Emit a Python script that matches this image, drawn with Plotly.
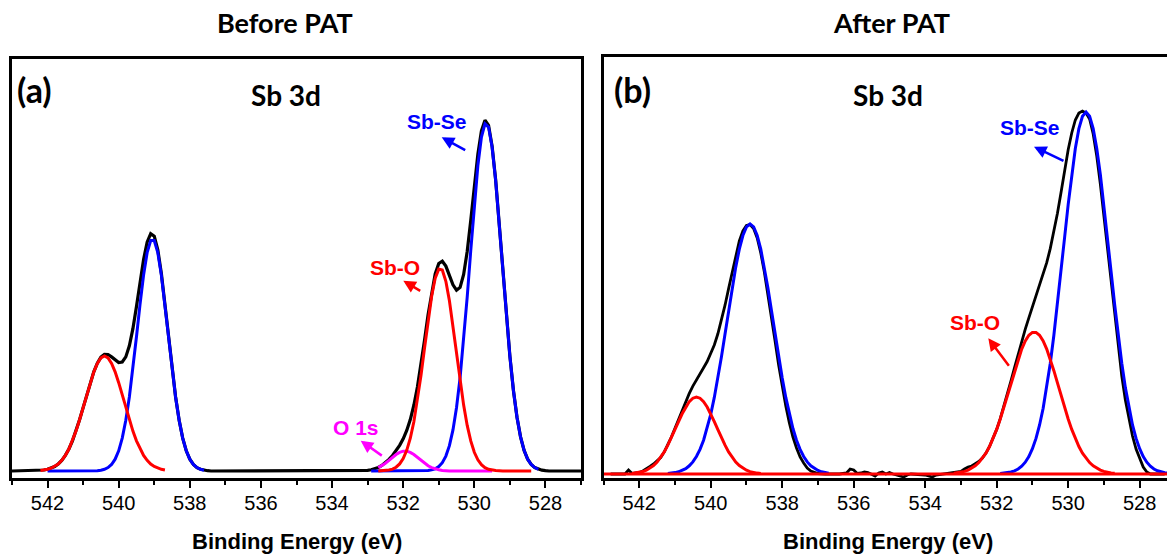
import plotly.graph_objects as go

# ---------------- Panel (a): Before PAT ----------------
a_black_E = [543.0, 542.3, 542.2, 542.1, 542.0, 541.9, 541.8, 541.7, 541.6, 541.5, 541.4, 541.3, 541.2, 541.1, 541.0,
             540.9, 540.8, 540.7, 540.6, 540.5, 540.4, 540.3, 540.2, 540.1, 540.0, 539.9, 539.8, 539.7, 539.6, 539.5,
             539.4, 539.3, 539.2, 539.1, 539.0, 538.9, 538.8, 538.7, 538.6, 538.5, 538.4, 538.3, 538.2, 538.1, 538.0,
             537.9, 537.8, 537.7, 537.6, 537.5, 537.4,
             533.2, 533.1, 533.0, 532.9, 532.8, 532.7, 532.6, 532.5, 532.4, 532.3, 532.2, 532.1, 532.0, 531.9, 531.8,
             531.7, 531.6, 531.5, 531.4, 531.3, 531.2, 531.1, 531.0, 530.9, 530.8, 530.7, 530.6, 530.5, 530.4, 530.3,
             530.2, 530.1, 530.0, 529.9, 529.8, 529.7, 529.6, 529.5, 529.4, 529.3, 529.2, 529.1, 529.0, 528.9, 528.8,
             528.7, 528.6, 528.5, 528.4, 528.3, 528.2, 528.1, 528.0, 527.9, 527.0]
a_black_I = [0, 0.2, 0.5, 1.0, 1.7, 2.8, 4.5, 7.0, 10.6, 15.6, 22.0, 30.2, 39.9, 51.2, 63.4,
             76.1, 88.3, 99.1, 107.9, 113.9, 116.7, 116.5, 114.1, 110.9, 108.5, 109.0, 114.1, 125.2, 142.3, 164.4,
             188.6, 211.5, 228.9, 237.4, 234.9, 221.1, 197.6, 167.6, 134.7, 102.4, 74.0, 50.7, 32.9, 20.2, 11.8,
             6.5, 3.4, 1.7, 0.8, 0.3, 0,
             0, 0.3, 0.6, 1.2, 2.1, 3.5, 5.5, 8.3, 11.6, 15.5, 20.3, 25.7, 32.2, 40.5, 51.4,
             65.8, 84.0, 106.0, 130.8, 156.2, 179.2, 197.0, 207.5, 209.8, 204.9, 195.5, 186.2, 180.9, 183.6, 196.5,
             219.5, 250.6, 284.6, 316.7, 340.2, 350.7, 345.7, 324.9, 291.1, 248.3, 201.8, 156.0, 114.9, 80.5, 53.7,
             34.1, 20.6, 11.8, 6.5, 3.4, 1.7, 0.8, 0.3, 0, 0]

a_sbse1_E = [532.9, 531.4, 531.3, 531.2, 531.1, 531.0, 530.9, 530.8, 530.7, 530.6, 530.5, 530.4, 530.3, 530.2, 530.1,
             530.0, 529.9, 529.8, 529.7, 529.6, 529.5, 529.4, 529.3, 529.2, 529.1, 529.0, 528.9, 528.8, 528.7, 528.6,
             528.5, 528.4, 528.3, 528.2]
a_sbse1_I = [0, 0, 0.5, 1.1, 2.2, 4.4, 8.3, 14.9, 25.3, 41.1, 63.5, 93.4, 130.6, 173.9, 220.5,
             265.9, 305.5, 333.9, 347.2, 343.9, 324.0, 290.7, 248.1, 201.7, 156.0, 114.9, 80.5, 53.7, 34.1, 20.6,
             11.8, 6.5, 3.4, 1.7]

a_sbo1_E = [532.7, 532.6, 532.5, 532.4, 532.3, 532.2, 532.1, 532.0, 531.9, 531.8, 531.7, 531.6, 531.5, 531.4, 531.3,
            531.2, 531.1, 531.0, 530.9, 530.8, 530.7, 530.6, 530.5, 530.4, 530.3, 530.2, 530.1, 530.0, 529.9, 529.8,
            529.7, 529.6, 529.5, 529.4, 529.2, 528.4]
a_sbo1_I = [0.1, 0.2, 0.5, 1.0, 1.9, 3.8, 7.1, 12.4, 20.7, 32.8, 49.3, 70.4, 95.4, 123.0, 150.4,
            174.7, 192.7, 201.9, 200.9, 189.7, 170.2, 145.1, 117.4, 90.2, 65.9, 45.6, 30.1, 18.7, 11.2, 6.3,
            3.4, 1.7, 0.9, 0.4, 0.1, 0]

a_o1s_E = [532.7, 532.6, 532.5, 532.4, 532.3, 532.2, 532.1, 532.0, 531.9, 531.8, 531.7, 531.6, 531.5, 531.4, 531.3,
           531.2, 531.1, 531.0, 530.9, 530.8, 530.7, 529.5]
a_o1s_I = [3.4, 5.3, 7.8, 10.6, 13.6, 16.5, 18.6, 19.8, 19.8, 18.6, 16.5, 13.6, 10.6, 7.8, 5.3,
           3.4, 2.1, 1.2, 0.6, 0.3, 0, 0]

a_sbse2_E = [542.0, 540.7, 540.6, 540.5, 540.4, 540.3, 540.2, 540.1, 540.0, 539.9, 539.8, 539.7, 539.6, 539.5, 539.4,
             539.3, 539.2, 539.1, 539.0, 538.9, 538.8, 538.7, 538.6, 538.5, 538.4, 538.3, 538.2, 538.1, 538.0, 537.9,
             537.8, 537.7, 537.6]
a_sbse2_I = [0, 0, 0.3, 0.8, 1.7, 3.4, 6.5, 11.8, 20.2, 32.9, 50.7, 74.0, 102.4, 134.2, 166.6,
             195.9, 218.3, 230.4, 230.4, 218.3, 195.9, 166.6, 134.2, 102.4, 74.0, 50.7, 32.9, 20.2, 11.8, 6.5,
             3.4, 1.7, 0.8]

a_sbo2_E = [542.2, 542.1, 542.0, 541.9, 541.8, 541.7, 541.6, 541.5, 541.4, 541.3, 541.2, 541.1, 541.0, 540.9, 540.8,
            540.7, 540.6, 540.5, 540.4, 540.3, 540.2, 540.1, 540.0, 539.9, 539.8, 539.7, 539.6, 539.5, 539.4, 539.3,
            539.2, 539.1, 539.0, 538.9, 538.8, 538.7]
a_sbo2_I = [0.5, 1.0, 1.7, 2.8, 4.5, 7.0, 10.6, 15.6, 22.0, 30.2, 39.9, 51.2, 63.4, 76.1, 88.3,
            99.1, 107.6, 113.1, 115.0, 113.1, 107.6, 99.1, 88.3, 76.1, 63.4, 51.2, 39.9, 30.2, 22.0, 15.6,
            10.6, 7.0, 4.5, 2.8, 1.7, 1.0]

# ---------------- Panel (b): After PAT ----------------
b_black_E = [542.8, 542.4, 542.3, 542.2, 542.1, 542.0, 541.9, 541.8, 541.7, 541.6, 541.5, 541.4, 541.3, 541.2, 541.1,
             541.0, 540.9, 540.8, 540.7, 540.6, 540.5, 540.4, 540.3, 540.2, 540.1, 540.0, 539.9, 539.8, 539.7, 539.6,
             539.5, 539.4, 539.3, 539.2, 539.1, 539.0, 538.9, 538.8, 538.7, 538.6, 538.5, 538.4, 538.3, 538.2, 538.1,
             538.0, 537.9, 537.8, 537.7, 537.6, 537.5, 537.4, 537.3, 537.2, 537.1, 537.0, 536.8, 536.4, 536.2, 536.1,
             536.0, 535.9, 535.8, 535.7, 535.6, 535.5, 535.4, 535.3, 535.2, 535.1, 535.0, 534.9, 534.8, 534.6, 534.5,
             534.4, 534.0, 533.8, 533.7, 533.5, 533.3, 533.2, 533.1, 533.0, 532.9, 532.8, 532.7, 532.6, 532.5, 532.4,
             532.3, 532.2, 532.1, 532.0, 531.9, 531.8, 531.7, 531.6, 531.5, 531.4, 531.3, 531.2, 531.1, 531.0, 530.9,
             530.8, 530.7, 530.6, 530.5, 530.4, 530.3, 530.2, 530.1, 530.0, 529.9, 529.8, 529.7, 529.6, 529.5, 529.4,
             529.3, 529.2, 529.1, 529.0, 528.9, 528.8, 528.7, 528.6, 528.5, 528.4, 528.3, 528.2, 528.1, 528.0, 527.9,
             527.8, 527.7, 527.3]
b_black_I = [0, 0, 4.0, 0.5, 1.0, 1.5, 3.0, 5.0, 7.5, 10.0, 13.0, 16.5, 22.1, 29.3, 37.0,
             45.7, 54.6, 63.7, 72.4, 80.6, 87.9, 94.5, 100.4, 106.2, 112.5, 119.9, 129.0, 140.2, 153.4, 168.8,
             185.4, 202.5, 218.9, 233.2, 243.0, 248.5, 249.5, 245.5, 236.0, 221.0, 202.0, 180.0, 157.0, 133.0, 109.0,
             87.0, 68.0, 51.0, 37.0, 26.0, 17.0, 11.0, 6.0, 3.0, 1.5, 0.5, 0, 0, 1.0, 5.0,
             4.0, 0.5, 1.0, 2.0, 1.5, 0, -2.0, 1.0, 2.0, 0, 1.5, 0, -1.0, -3.0, -1.0,
             0, -1.0, -3.0, -1.0, 0, 0.5, 1.0, 1.5, 2.5, 5.0, 7.0, 8.0, 10.0, 12.5, 16.0,
             20.9, 27.5, 35.4, 44.6, 55.4, 67.2, 79.9, 93.1, 106.5, 119.8, 132.7, 144.8, 156.2, 166.9, 177.2,
             187.7, 198.8, 211.3, 225.6, 242.1, 260.8, 281.4, 302.9, 324.3, 341.0, 354.0, 361.0, 363.0, 361.0, 355.0,
             340.0, 318.0, 290.0, 258.0, 225.0, 190.0, 157.0, 126.0, 98.0, 74.0, 54.0, 38.0, 25.0, 15.0, 7.0,
             2.0, 0, 0]

b_sbse1_E = [531.9, 531.8, 531.7, 531.6, 531.5, 531.4, 531.3, 531.2, 531.1, 531.0, 530.9, 530.8, 530.7, 530.6, 530.5,
             530.4, 530.3, 530.2, 530.1, 530.0, 529.9, 529.8, 529.7, 529.6, 529.5, 529.4, 529.3, 529.2, 529.1, 529.0,
             528.9, 528.8, 528.7, 528.6, 528.5, 528.4, 528.3, 528.2, 528.1, 528.0, 527.9, 527.8, 527.7, 527.6, 527.5,
             527.4, 527.3, 527.2]
b_sbse1_I = [0.4, 0.7, 1.2, 2.0, 3.2, 5.0, 7.8, 11.8, 17.5, 25.3, 35.6, 49.0, 65.8, 86.4, 110.8,
             138.8, 169.7, 202.7, 236.4, 269.3, 299.6, 325.4, 345.3, 357.7, 362.0, 357.7, 345.3, 325.4, 299.6, 269.3,
             236.4, 202.7, 169.7, 138.8, 110.8, 86.4, 65.8, 49.0, 35.6, 25.3, 17.5, 11.8, 7.8, 5.0, 3.2,
             2.0, 1.2, 0.7]

b_sbse2_E = [541.2, 541.1, 541.0, 540.9, 540.8, 540.7, 540.6, 540.5, 540.4, 540.3, 540.2, 540.1, 540.0, 539.9, 539.8,
             539.7, 539.6, 539.5, 539.4, 539.3, 539.2, 539.1, 539.0, 538.9, 538.8, 538.7, 538.6, 538.5, 538.4, 538.3,
             538.2, 538.1, 538.0, 537.9, 537.8, 537.7, 537.6, 537.5, 537.4, 537.3, 537.2, 537.1, 537.0, 536.9, 536.8,
             536.7]
b_sbse2_I = [0.5, 0.8, 1.4, 2.2, 3.5, 5.4, 8.2, 12.1, 17.5, 24.6, 33.8, 45.5, 59.7, 76.6, 95.9,
             117.2, 140.0, 163.3, 186.0, 206.9, 224.8, 238.5, 247.1, 250.0, 247.1, 238.5, 224.8, 206.9, 186.0, 163.3,
             140.0, 117.2, 95.9, 76.6, 59.7, 45.5, 33.8, 24.6, 17.5, 12.1, 8.2, 5.4, 3.5, 2.2, 1.4,
             0.8]

b_sbo1_E = [533.2, 533.1, 533.0, 532.9, 532.8, 532.7, 532.6, 532.5, 532.4, 532.3, 532.2, 532.1, 532.0, 531.9, 531.8,
            531.7, 531.6, 531.5, 531.4, 531.3, 531.2, 531.1, 531.0, 530.9, 530.8, 530.7, 530.6, 530.5, 530.4, 530.3,
            530.2, 530.1, 530.0, 529.9, 529.8, 529.7, 529.6, 529.5, 529.4, 529.3, 529.2, 529.1, 529.0, 528.9, 528.8,
            528.7]
b_sbo1_I = [0.7, 1.1, 1.7, 2.6, 3.9, 5.7, 8.1, 11.4, 15.6, 20.9, 27.5, 35.4, 44.6, 55.0, 66.5,
            78.7, 91.1, 103.3, 114.8, 124.9, 133.0, 138.7, 141.6, 141.6, 138.7, 133.0, 124.9, 114.8, 103.3, 91.1,
            78.7, 66.5, 55.0, 44.6, 35.4, 27.5, 20.9, 15.6, 11.4, 8.1, 5.7, 3.9, 2.6, 1.7, 1.1,
            0.7]

b_sbo2_E = [542.2, 542.1, 542.0, 541.9, 541.8, 541.7, 541.6, 541.5, 541.4, 541.3, 541.2, 541.1, 541.0, 540.9, 540.8,
            540.7, 540.6, 540.5, 540.4, 540.3, 540.2, 540.1, 540.0, 539.9, 539.8, 539.7, 539.6, 539.5, 539.4, 539.3,
            539.2, 539.1, 539.0, 538.9, 538.8, 538.7, 538.6]
b_sbo2_I = [0.5, 0.9, 1.5, 2.4, 3.8, 5.7, 8.4, 12.0, 16.5, 22.1, 28.8, 36.2, 44.3, 52.4, 60.2,
            67.0, 72.4, 75.8, 77.0, 75.8, 72.4, 67.0, 60.2, 52.4, 44.3, 36.2, 28.8, 22.1, 16.5, 12.0,
            8.4, 5.7, 3.8, 2.4, 1.5, 0.9, 0.5]

b_base_E = [543.0, 527.2]
b_base_I = [0, 0]

x_ticks = [542, 540, 538, 536, 534, 532, 530, 528]

BLACK, BLUE, RED, MAGENTA = "#000000", "#0000FF", "#FF0000", "#FF00FF"
W, H = 1167, 558

fig = go.Figure()


def add(E, I, color, xa, ya, width=3.0):
    fig.add_trace(go.Scatter(x=E, y=I, mode="lines", line=dict(color=color, width=width, shape="linear"),
                             xaxis=xa, yaxis=ya, showlegend=False, hoverinfo="skip"))


# panel (a)
add(a_black_E, a_black_I, BLACK, "x", "y", 3.2)
add(a_sbse1_E, a_sbse1_I, BLUE, "x", "y")
add(a_sbse2_E, a_sbse2_I, BLUE, "x", "y")
add(a_o1s_E, a_o1s_I, MAGENTA, "x", "y")
add(a_sbo1_E, a_sbo1_I, RED, "x", "y")
add(a_sbo2_E, a_sbo2_I, RED, "x", "y")

# panel (b)
add(b_black_E, b_black_I, BLACK, "x2", "y2", 2.8)
add(b_sbse1_E, b_sbse1_I, BLUE, "x2", "y2")
add(b_sbse2_E, b_sbse2_I, BLUE, "x2", "y2")
add(b_sbo1_E, b_sbo1_I, RED, "x2", "y2")
add(b_sbo2_E, b_sbo2_I, RED, "x2", "y2")
add(b_base_E, b_base_I, RED, "x2", "y2", 3.2)

TICKFONT = dict(family="Liberation Sans, Arial, sans-serif", size=20, color=BLACK)


def xaxis_style(domain, rng, anchor):
    return dict(domain=domain, range=rng, anchor=anchor, showline=True, mirror=True, linewidth=2.5,
                linecolor=BLACK, ticks="outside", ticklen=7, tickwidth=2, tickcolor=BLACK,
                tickmode="array", tickvals=x_ticks, ticktext=[str(v) for v in x_ticks],
                minor=dict(ticks="outside", ticklen=4, tickwidth=2, tickcolor=BLACK, dtick=1, tick0=527,
                           showgrid=False),
                showgrid=False, zeroline=False, tickfont=TICKFONT, ticklabelstandoff=-2)


def yaxis_style(domain, rng, anchor, mirror):
    return dict(domain=domain, range=rng, anchor=anchor, showline=True, mirror=mirror, linewidth=2.5,
                linecolor=BLACK, ticks="", showticklabels=False, showgrid=False, zeroline=False)


fig.update_layout(
    width=W, height=H, margin=dict(l=0, r=0, t=0, b=0),
    paper_bgcolor="white", plot_bgcolor="white",
    xaxis=xaxis_style([12 / W, 581 / W], [543, 527], "y"),
    yaxis=yaxis_style([80 / H, 499 / H], [-7, 412], "x", True),
    xaxis2=xaxis_style([603.5 / W, 1.0], [543, 527.235], "y2"),
    yaxis2=yaxis_style([80 / H, 501 / H], [-4, 417], "x2", False),
)


def px(x):
    return x / W


def py(y):
    return 1 - y / H


TITLEFONT = dict(family="Lato, Carlito, sans-serif", size=27, color=BLACK, weight="bold")
LABELFONT = dict(family="Lato, Carlito, sans-serif", size=34, color=BLACK, weight="bold")
SBFONT = dict(family="Lato, Carlito, sans-serif", size=28, color=BLACK, weight="bold")
AXTITLEFONT = dict(family="Liberation Sans, Arial, sans-serif", size=22, color=BLACK, weight="bold")


def text(x, y, s, font, color=None):
    f = dict(font)
    if color:
        f["color"] = color
    fig.add_annotation(x=px(x), y=py(y), xref="paper", yref="paper", text=s, showarrow=False,
                       xanchor="center", yanchor="middle", font=f)


def arrow(hx, hy, tx, ty, color):
    fig.add_annotation(x=px(hx), y=py(hy), xref="paper", yref="paper", text="", showarrow=True,
                       ax=tx - hx, ay=ty - hy, arrowhead=2, arrowsize=1, arrowwidth=2.5,
                       arrowcolor=color, standoff=0, startstandoff=0)


text(285, 22, "Before PAT", TITLEFONT)
text(891, 22, "After PAT", TITLEFONT)
text(34.5, 89, "(a)", LABELFONT)
text(632, 89, "(b)", LABELFONT)
text(286, 95, "Sb 3d", SBFONT)
text(888, 95, "Sb 3d", SBFONT)
text(297, 541, "Binding Energy (eV)", AXTITLEFONT)
text(888, 541, "Binding Energy (eV)", AXTITLEFONT)

ANNFONT = dict(family="Liberation Sans, Arial, sans-serif", size=21, weight="bold")
text(437, 122, "Sb-Se", ANNFONT, BLUE)
arrow(441.7, 137.3, 466.7, 151, BLUE)
text(395, 267, "Sb-O", ANNFONT, RED)
arrow(403.3, 280.7, 421.7, 291.7, RED)
text(355.5, 427, "O 1s", ANNFONT, MAGENTA)
arrow(360.7, 440.7, 383.3, 456.7, MAGENTA)
text(1030, 128, "Sb-Se", ANNFONT, BLUE)
arrow(1034, 146.7, 1065, 161.7, BLUE)
text(975, 322, "Sb-O", ANNFONT, RED)
arrow(988.3, 338.3, 1010, 367.3, RED)

fig.write_html("out.html", config={"displayModeBar": False},
               post_script="document.body.style.margin='0px';document.body.style.overflow='hidden';")
